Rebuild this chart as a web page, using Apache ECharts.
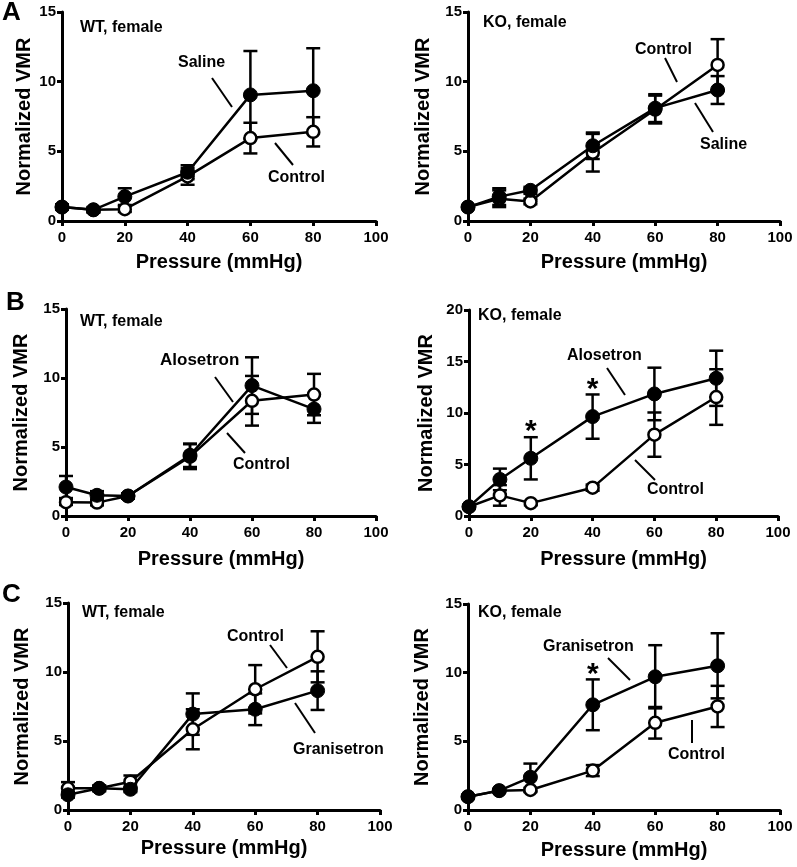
<!DOCTYPE html>
<html><head><meta charset="utf-8">
<script src="https://cdn.jsdelivr.net/npm/echarts@6/dist/echarts.min.js"></script>
<style>html,body{margin:0;padding:0;background:#fff}#c{width:797px;height:867px}</style>
</head><body><div id="c"></div>
<script>
// ---------- data ----------
const pressure = [0, 10, 20, 40, 60, 80];

// A: WT female
const aWT_saline      = [1.0, 0.8, 1.75, 3.5, 9.05, 9.35];
const aWT_saline_err  = [0.2, 0.2, 0.6, 0.5, 3.15, 3.05];
const aWT_control     = [1.0, 0.8, 0.85, 3.2, 5.95, 6.4];
const aWT_control_err = [0.15, 0.15, 0.2, 0.6, 1.1, 1.05];
// A: KO female
const aKO_saline      = [1.0, 1.75, 2.2, 5.4, 8.1, 9.4];
const aKO_saline_err  = [0.1, 0.6, 0.25, 0.95, 1.0, 1.0];
const aKO_control     = [1.0, 1.6, 1.4, 4.9, 8.0, 11.2];
const aKO_control_err = [0.1, 0.6, 0.2, 1.35, 1.0, 1.85];
// B: WT female
const bWT_alosetron     = [2.1, 1.5, 1.45, 4.4, 9.45, 7.75];
const bWT_alosetron_err = [0.8, 0.3, 0.2, 0.85, 2.05, 1.0];
const bWT_control       = [1.0, 0.97, 1.45, 4.3, 8.35, 8.8];
const bWT_control_err   = [0.2, 0.2, 0.2, 0.9, 1.8, 1.5];
// B: KO female
const bKO_alosetron     = [0.9, 3.55, 5.6, 9.65, 11.85, 13.37];
const bKO_alosetron_err = [0.15, 1.05, 2.05, 2.15, 2.55, 2.68];
const bKO_control       = [0.9, 2.0, 1.25, 2.75, 7.9, 11.55];
const bKO_control_err   = [0.15, 1.0, 0.2, 0.3, 2.15, 2.7];
// C: WT female
const cWT_granisetron     = [1.1, 1.57, 1.5, 6.95, 7.3, 8.65];
const cWT_granisetron_err = [0.2, 0.2, 0.2, 1.5, 1.15, 1.4];
const cWT_control         = [1.57, 1.57, 2.05, 5.85, 8.75, 11.1];
const cWT_control_err     = [0.45, 0.2, 0.45, 1.45, 1.75, 1.85];
// C: KO female
const cKO_granisetron     = [0.97, 1.41, 2.38, 7.66, 9.7, 10.5];
const cKO_granisetron_err = [0.1, 0.1, 1.0, 1.85, 2.3, 2.37];
const cKO_control         = [0.97, 1.41, 1.46, 2.87, 6.35, 7.54];
const cKO_control_err     = [0.1, 0.1, 0.15, 0.4, 1.15, 1.5];

// significance markers: [pressure index] per panel
const bKO_sig = [2, 3];
const cKO_sig = [3];

const xTicks = [0, 20, 40, 60, 80, 100];
const yMaxStd = 15, yMaxBKO = 20;

// ---------- layout ----------
const FONT = '"Liberation Sans", Arial, Helvetica, sans-serif';
const panels = [
  {grid:{left:62, top:12, width:314, height:209}, ymax:yMaxStd, yGap:28, xGap:31,
   filled:aWT_saline, filledErr:aWT_saline_err, open:aWT_control, openErr:aWT_control_err, sig:[]},
  {grid:{left:468, top:12, width:312, height:209}, ymax:yMaxStd, yGap:35, xGap:31,
   filled:aKO_saline, filledErr:aKO_saline_err, open:aKO_control, openErr:aKO_control_err, sig:[]},
  {grid:{left:66, top:309, width:310, height:207}, ymax:yMaxStd, yGap:35, xGap:33,
   filled:bWT_alosetron, filledErr:bWT_alosetron_err, open:bWT_control, openErr:bWT_control_err, sig:[]},
  {grid:{left:469, top:310, width:309, height:206}, ymax:yMaxBKO, yGap:33, xGap:33,
   filled:bKO_alosetron, filledErr:bKO_alosetron_err, open:bKO_control, openErr:bKO_control_err, sig:bKO_sig},
  {grid:{left:68, top:603, width:312, height:207}, ymax:yMaxStd, yGap:36, xGap:28,
   filled:cWT_granisetron, filledErr:cWT_granisetron_err, open:cWT_control, openErr:cWT_control_err, sig:[]},
  {grid:{left:468, top:604, width:312, height:206}, ymax:yMaxStd, yGap:36, xGap:30,
   filled:cKO_granisetron, filledErr:cKO_granisetron_err, open:cKO_control, openErr:cKO_control_err, sig:cKO_sig}
];

const labels = [
  // [text, left x, center y, size]
  ['A', 2, 13, 26], ['B', 6, 303, 26], ['C', 2, 595, 26],
  ['WT, female', 80, 28, 16], ['Saline', 178, 63, 16], ['Control', 268, 178, 16],
  ['KO, female', 483, 23, 16], ['Control', 635, 50, 16], ['Saline', 700, 145, 16],
  ['WT, female', 80, 322, 16], ['Alosetron', 160, 360, 17], ['Control', 233, 465, 16],
  ['KO, female', 478, 316, 16], ['Alosetron', 567, 356, 16], ['Control', 647, 490, 16],
  ['WT, female', 82, 613, 16], ['Control', 227, 637, 16], ['Granisetron', 293, 750, 16],
  ['KO, female', 478, 613, 16], ['Granisetron', 543, 647, 16], ['Control', 668, 755, 16]
];
const leaders = [
  [212,78,232,107], [275,143,293,165],
  [665,58,677,82], [695,103,713,132],
  [215,377,233,402], [227,433,245,453],
  [607,368,625,395], [635,460,655,480],
  [270,645,287,668], [295,703,315,733],
  [608,658,630,680], [692,720,692,743]
];

function errRender(params, api) {
  const x = api.value(0), y = api.value(1), e = api.value(2);
  const hi = api.coord([x, y + e]), lo = api.coord([x, y - e]);
  const w = 7, st = {stroke:'#000', lineWidth:2.5};
  return {type:'group', children:[
    {type:'line', shape:{x1:hi[0], y1:hi[1], x2:lo[0], y2:lo[1]}, style:st},
    {type:'line', shape:{x1:hi[0]-w, y1:hi[1], x2:hi[0]+w, y2:hi[1]}, style:st},
    {type:'line', shape:{x1:lo[0]-w, y1:lo[1], x2:lo[0]+w, y2:lo[1]}, style:st}
  ]};
}

const grids = [], xAxes = [], yAxes = [], series = [];
const axisCommon = {
  axisLine:{show:true, onZero:false, lineStyle:{color:'#000', width:3}},
  axisTick:{show:true, inside:false, length:5, lineStyle:{color:'#000', width:3}},
  splitLine:{show:false},
  nameLocation:'middle',
  nameTextStyle:{fontFamily:FONT, fontWeight:'bold', fontSize:20, color:'#000'}
};
panels.forEach((p, i) => {
  grids.push(Object.assign({containLabel:false}, p.grid));
  xAxes.push(Object.assign({}, axisCommon, {
    type:'value', gridIndex:i, min:xTicks[0], max:xTicks[xTicks.length-1], interval:20,
    name:'Pressure (mmHg)', nameGap:p.xGap,
    axisLabel:{fontFamily:FONT, fontWeight:'bold', fontSize:15, color:'#000', margin:9}
  }));
  yAxes.push(Object.assign({}, axisCommon, {
    type:'value', gridIndex:i, min:0, max:p.ymax, interval:5,
    name:'Normalized VMR', nameGap:p.yGap,
    axisLabel:{fontFamily:FONT, fontWeight:'bold', fontSize:15, color:'#000', margin:6}
  }));
  const mk = (vals, errs) => pressure.map((x, k) => [x, vals[k], errs[k]]);
  series.push({type:'custom', xAxisIndex:i, yAxisIndex:i, renderItem:errRender,
    data:mk(p.open, p.openErr), z:2, silent:true});
  series.push({type:'custom', xAxisIndex:i, yAxisIndex:i, renderItem:errRender,
    data:mk(p.filled, p.filledErr), z:2, silent:true});
  series.push({type:'line', xAxisIndex:i, yAxisIndex:i, z:3,
    data:pressure.map((x, k) => [x, p.open[k]]),
    symbol:'circle', symbolSize:12, showSymbol:true,
    lineStyle:{color:'#000', width:2.5},
    itemStyle:{color:'#fff', borderColor:'#000', borderWidth:2.5}});
  series.push({type:'line', xAxisIndex:i, yAxisIndex:i, z:4,
    data:pressure.map((x, k) => [x, p.filled[k]]),
    symbol:'circle', symbolSize:14, showSymbol:true,
    lineStyle:{color:'#000', width:2.5},
    itemStyle:{color:'#000', borderColor:'#000', borderWidth:1},
    markPoint: p.sig.length ? {
      symbol:'circle', symbolSize:0, silent:true,
      data:p.sig.map(k => ({coord:[pressure[k], p.filled[k] + p.filledErr[k]]})),
      label:{show:true, formatter:'*', position:'top', distance:-10,
        fontFamily:FONT, fontWeight:'bold', fontSize:30, color:'#000'}
    } : undefined});
});

const graphic = [];
labels.forEach(l => graphic.push({type:'text', x:l[1], y:l[2], silent:true,
  style:{text:l[0], fill:'#000', font:'bold ' + l[3] + 'px ' + FONT, align:'left', verticalAlign:'middle'}}));
leaders.forEach(s => graphic.push({type:'line', silent:true,
  shape:{x1:s[0], y1:s[1], x2:s[2], y2:s[3]}, style:{stroke:'#000', lineWidth:2}}));

const chart = echarts.init(document.getElementById('c'), null, {renderer:'canvas'});
chart.setOption({animation:false, backgroundColor:'#fff',
  grid:grids, xAxis:xAxes, yAxis:yAxes, series:series, graphic:graphic});
</script></body></html>
